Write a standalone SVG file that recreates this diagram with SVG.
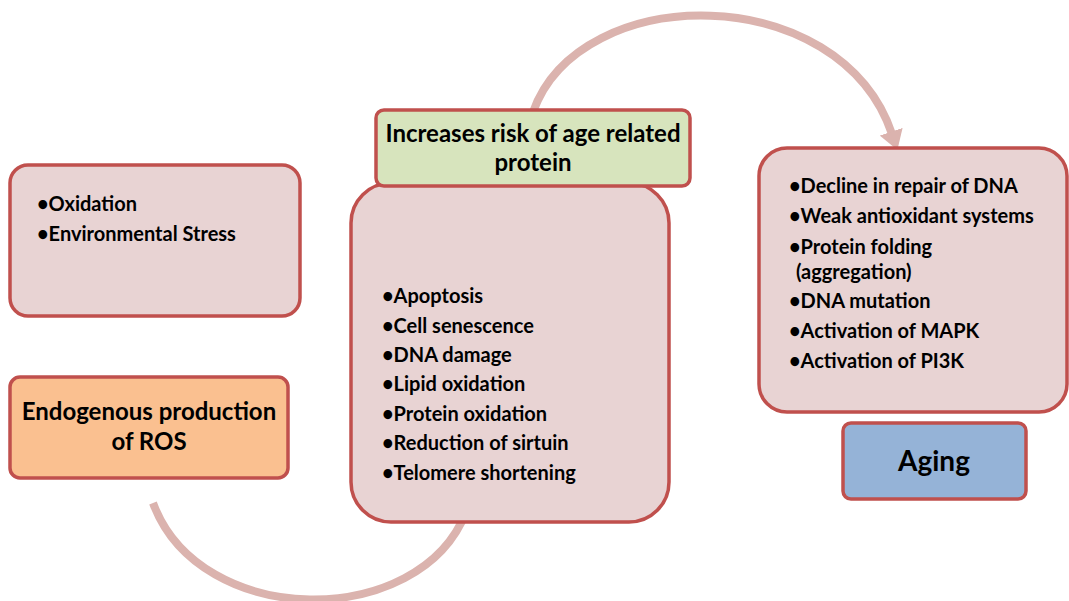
<svg xmlns="http://www.w3.org/2000/svg" width="1069" height="601" viewBox="0 0 1069 601">
<style>
.box{fill:#e8d3d3;stroke:#c0504d;stroke-width:3.5}
.t{font-family:Lato,"Liberation Sans",sans-serif;font-weight:bold;fill:#000}
.li{font-size:20px}
.hd{font-size:24px;text-anchor:middle}
.arc{fill:none;stroke:#dbb3ae;stroke-width:8}
</style>
<defs>
<marker id="ah" markerUnits="userSpaceOnUse" markerWidth="24" markerHeight="24" refX="2" refY="10" orient="auto" viewBox="0 0 20 20">
<path d="M0,0 L16,10 L0,20 z" fill="#dbb3ae"/>
</marker>
</defs>
<g id="connectors">
<path class="arc" d="M533,112 C580,-20 840,-20 892,134" marker-end="url(#ah)"/>
<path class="arc" d="M153,503 C200,630 420,630 466,512" marker-end="url(#ah)"/>
</g>
<g id="causes">
<rect class="box" x="10" y="165" width="290" height="151" rx="18"/>
<text class="t li" x="37" y="211">•Oxidation</text>
<text class="t li" x="37" y="241">•Environmental Stress</text>
</g>
<g id="endogenous">
<rect x="10" y="377" width="278" height="101" rx="10" fill="#fac090" stroke="#c0504d" stroke-width="3.5"/>
<text class="t hd" x="149" y="420">Endogenous production</text>
<text class="t hd" x="149" y="450">of ROS</text>
</g>
<g id="effects">
<rect class="box" x="351" y="183" width="318" height="339" rx="40"/>
<text class="t li" x="382" y="303">•Apoptosis</text>
<text class="t li" x="382" y="333">•Cell  senescence</text>
<text class="t li" x="382" y="362">•DNA damage</text>
<text class="t li" x="382" y="391">•Lipid oxidation</text>
<text class="t li" x="382" y="421">•Protein oxidation</text>
<text class="t li" x="382" y="450">•Reduction of sirtuin</text>
<text class="t li" x="382" y="480">•Telomere shortening</text>
</g>
<g id="risk">
<rect x="376" y="110" width="314" height="76" rx="8" fill="#d7e4bd" stroke="#c0504d" stroke-width="3.5"/>
<text class="t hd" x="533" y="142">Increases risk of age related</text>
<text class="t hd" x="533" y="171">protein</text>
</g>
<g id="mechanisms">
<rect class="box" x="759" y="148" width="308" height="264" rx="28"/>
<text class="t li" x="789" y="193">•Decline in repair of DNA</text>
<text class="t li" x="789" y="223">•Weak antioxidant  systems</text>
<text class="t li" x="789" y="254">•Protein folding</text>
<text class="t li" x="796" y="279">(aggregation)</text>
<text class="t li" x="789" y="308">•DNA mutation</text>
<text class="t li" x="789" y="338">•Activation of MAPK</text>
<text class="t li" x="789" y="368">•Activation of PI3K</text>
</g>
<g id="aging">
<rect x="843" y="423" width="183" height="76" rx="8" fill="#95b3d7" stroke="#c0504d" stroke-width="3.5"/>
<text class="t" x="934" y="471" font-size="28" text-anchor="middle">Aging</text>
</g>
</svg>
